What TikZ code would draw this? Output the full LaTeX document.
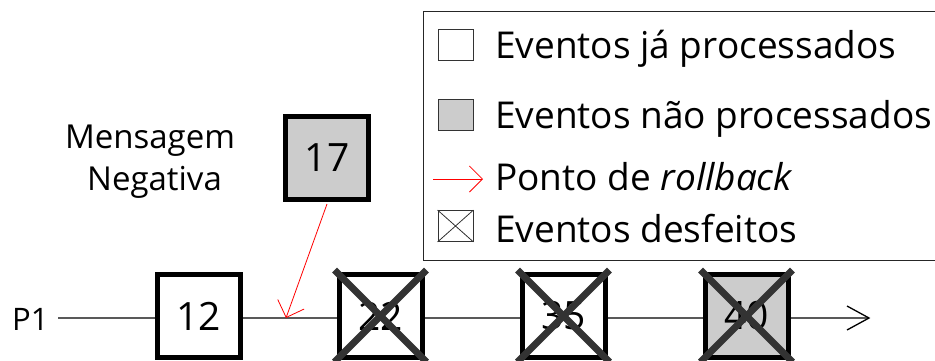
\documentclass[tikz,border=0pt]{standalone}
\usepackage{fontspec}
\setmainfont{Open Sans}
\usetikzlibrary{arrows.meta}
\begin{document}
\begin{tikzpicture}[x=1pt,y=-1pt,
  evbox/.style={draw=black,line width=5pt,minimum width=83pt,minimum height=83pt,inner sep=0pt,font=\fontsize{39}{40}\selectfont},
  done/.style={evbox,fill=white},
  pend/.style={evbox,fill=black!20},
  crossline/.style={draw=black!80,line width=7pt},
  lbl/.style={font=\fontsize{37}{40}\selectfont,inner sep=0pt,anchor=base west},
  msgstyle/.style={font=\fontsize{33}{36}\selectfont,inner sep=0pt,anchor=base},
  legbox/.style={draw=black!80,line width=0.8pt,minimum width=35pt,minimum height=31pt,inner sep=0pt}
]
\useasboundingbox (0,0) rectangle (935,360);
\clip (0,0) rectangle (935,360);
% legend
\node[draw=black!85,line width=1pt,minimum width=530pt,minimum height=249pt,anchor=north west,inner sep=0pt] (legend) at (423,11) {};
\node[legbox,fill=white] (l1) at (455.5,44.5) {};
\node[legbox,fill=black!20] (l2) at (455.5,115) {};
\node[legbox] (l4) at (455.5,226) {};
\draw[black!80,line width=0.8pt] (l4.north west) -- (l4.south east) (l4.north east) -- (l4.south west);
\coordinate (la1) at (433,179);
\coordinate (la2) at (483,179);
\draw[draw=red,line width=0.8pt,-{Straight Barb[length=13pt,width=26pt,line width=0.8pt]}] (la1) -- (la2);
\node[lbl] (t1) at (495,58) {Eventos já processados};
\node[lbl] (t2) at (495,128.5) {Eventos não processados};
\node[lbl] (t3) at (495,190) {Ponto de \textit{rollback}};
\node[lbl] (t4) at (495,242) {Eventos desfeitos};
% timeline
\node[font=\fontsize{31}{34}\selectfont,inner sep=0pt,anchor=base west] (p1) at (12,330) {P1};
\coordinate (start) at (58,318);
\coordinate (end) at (869,318);
\draw[black!65,line width=1.5pt] (start) -- (end);
\draw[black,line width=1.3pt] (847,306) -- (end) -- (847,330);
\node[done] (e12) at (198.5,316) {12};
\node[done] (e22) at (380.5,316) {22};
\node[done] (e35) at (563.5,316) {35};
\node[pend] (e40) at (746.5,316) {40};
\foreach \n in {e22,e35,e40}{
  \draw[crossline] ([shift={(-2,-2)}]\n.north west) -- ([shift={(2,2)}]\n.south east);
  \draw[crossline] ([shift={(2,-2)}]\n.north east) -- ([shift={(-2,2)}]\n.south west);
}
% negative message
\node[pend] (e17) at (327,158) {17};
\node[msgstyle] (msg1) at (150,148) {Mensagem};
\node[msgstyle] (msg2) at (154.5,190) {Negativa};
\coordinate (rb) at (286,318);
\draw[draw=red,line width=0.8pt,-{Straight Barb[length=14pt,width=28pt,line width=0.8pt]}] (e17.south) ++(0,2) -- (rb);
\end{tikzpicture}
\end{document}
